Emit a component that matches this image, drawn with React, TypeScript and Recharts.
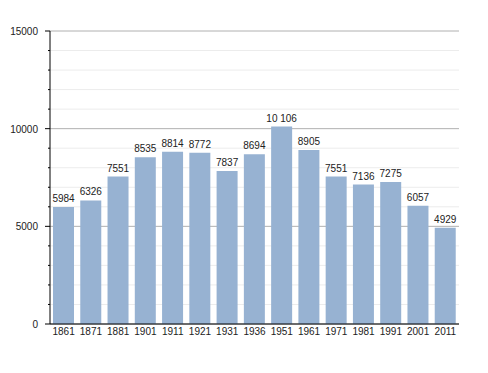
import React from 'react';
import { Bar, BarChart, CartesianGrid, LabelList, XAxis, YAxis } from 'recharts';

const years = ['1861', '1871', '1881', '1901', '1911', '1921', '1931', '1936', '1951', '1961', '1971', '1981', '1991', '2001', '2011'];
const population = [5984, 6326, 7551, 8535, 8814, 8772, 7837, 8694, 10106, 8905, 7551, 7136, 7275, 6057, 4929];
const yTicks = [0, 1000, 2000, 3000, 4000, 5000, 6000, 7000, 8000, 9000, 10000, 11000, 12000, 13000, 14000, 15000];

const data = years.map((year, i) => ({ year, value: population[i] }));

const FONT = '"Liberation Sans", Arial, sans-serif';

const fmtLabel = (v: any) => {
  const n = Number(v);
  if (n >= 10000) return `${Math.floor(n / 1000)} ${String(n % 1000).padStart(3, '0')}`;
  return String(n);
};

const YTick = ({ x, y, payload }: any) => {
  const major = payload.value % 5000 === 0;
  return (
    <g>
      <line x1={x - (major ? 5 : 2)} x2={x} y1={y} y2={y} stroke="#000" strokeWidth={1} />
      {major && (
        <text x={x - 12} y={y} dy={4} textAnchor="end" fontSize={10} fill="#222" fontFamily={FONT}>
          {payload.value}
        </text>
      )}
    </g>
  );
};

const GridLine = (props: any) => {
  const { x1, x2, y1, y2, index } = props;
  const major = index % 5 === 0;
  return (
    <line
      key={`g-${index}`}
      x1={x1}
      x2={x2}
      y1={y1}
      y2={y2}
      stroke={major ? '#b0b0b0' : '#ececec'}
      strokeWidth={1}
    />
  );
};

const BarLabel = ({ x, y, width, value }: any) => (
  <text
    x={Number(x) + Number(width) / 2}
    y={Number(y) - 5}
    textAnchor="middle"
    fontSize={10}
    fill="#222"
    fontFamily={FONT}
  >
    {fmtLabel(value)}
  </text>
);

export default function App() {
  return (
    <div style={{ position: 'absolute', left: 0, top: 0, background: '#fff' }}>
      <BarChart
        width={488}
        height={373}
        data={data}
        margin={{ top: 31, right: 29, left: 0, bottom: 0 }}
        barCategoryGap={3}
      >
        <CartesianGrid vertical={false} horizontal={GridLine as any} />
        <XAxis
          dataKey="year"
          height={49}
          tickLine={false}
          tickSize={0}
          tickMargin={4}
          axisLine={{ stroke: '#000' }}
          interval={0}
          tick={{ fontSize: 10, fill: '#222', fontFamily: FONT }}
        />
        <YAxis
          width={50}
          domain={[0, 15000]}
          ticks={yTicks}
          interval={0}
          tickLine={false}
          tickSize={0}
          tickMargin={0}
          axisLine={{ stroke: '#000' }}
          tick={<YTick />}
        />
        <Bar dataKey="value" fill="#97b2d2" isAnimationActive={false}>
          <LabelList dataKey="value" content={<BarLabel />} />
        </Bar>
      </BarChart>
    </div>
  );
}
